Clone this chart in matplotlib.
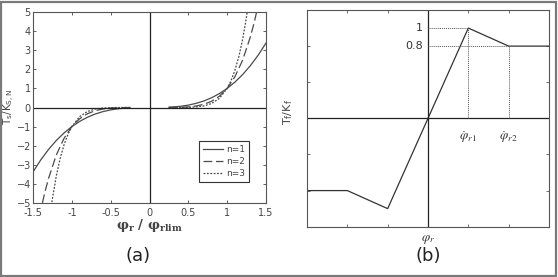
import matplotlib
matplotlib.use("Agg")
import matplotlib.pyplot as plt
from matplotlib.patches import Rectangle

# ---- Panel (a) data (positive branch; curve is odd-symmetric) ----
x_n1 = [0.25, 0.3, 0.4, 0.5, 0.6, 0.7, 0.8, 0.9, 1.0, 1.1, 1.2, 1.3, 1.4, 1.5]
y_n1 = [0.016, 0.027, 0.064, 0.125, 0.216, 0.343, 0.512, 0.729, 1.0, 1.331, 1.728, 2.197, 2.744, 3.375]
x_n2 = [0.25, 0.3, 0.4, 0.5, 0.6, 0.7, 0.8, 0.9, 1.0, 1.1, 1.2, 1.3, 1.35, 1.4]
y_n2 = [0.001, 0.002, 0.010, 0.031, 0.078, 0.168, 0.328, 0.590, 1.0, 1.611, 2.488, 3.713, 4.48, 5.38]
x_n3 = [0.25, 0.3, 0.4, 0.5, 0.6, 0.7, 0.8, 0.9, 1.0, 1.05, 1.1, 1.15, 1.2, 1.25, 1.3]
y_n3 = [0.0, 0.0, 0.002, 0.008, 0.028, 0.082, 0.210, 0.478, 1.0, 1.41, 1.949, 2.66, 3.583, 4.77, 6.27]
legend_labels = ["n=1", "n=2", "n=3"]
a_xticks = [-1.5, -1, -0.5, 0, 0.5, 1, 1.5]
a_yticks = [-5, -4, -3, -2, -1, 0, 1, 2, 3, 4, 5]

# ---- Panel (b) data ----
b_x = [-3, -2, -1, 1, 2, 3]
b_y = [-0.8, -0.8, -1.0, 1.0, 0.8, 0.8]
b_r1 = (1, 1.0)
b_r2 = (2, 0.8)

W, H = 558, 277
fig = plt.figure(figsize=(W / 100, H / 100), dpi=100)

def box(l, t, r, b):
    return [l / W, 1 - b / H, (r - l) / W, (b - t) / H]

# outer frame
fig.patches.append(Rectangle((0.5 / W, 1.5 / H), (555.5 - 0.5) / W, (275.5 - 1.5) / H,
                             transform=fig.transFigure, fill=False,
                             edgecolor="#7a7a7a", linewidth=1.6))

gray = "#4a4a4a"
# ================= Panel (a) =================
ax = fig.add_axes(box(33, 12, 266, 203))
styles = [dict(linestyle="-"), dict(linestyle=(0, (7, 3))), dict(linestyle=(0, (1.5, 1.2)))]
data = [(x_n1, y_n1), (x_n2, y_n2), (x_n3, y_n3)]
for (xs, ys), st, lab in zip(data, styles, legend_labels):
    ax.plot(xs, ys, color=gray, lw=0.9, label=lab, **st)
    ax.plot([-v for v in xs], [-v for v in ys], color=gray, lw=0.9, **st)
ax.axhline(0, color="#222222", lw=0.9)
ax.axvline(0, color="#222222", lw=0.9)
ax.set_xlim(-1.5, 1.5)
ax.set_ylim(-5, 5)
ax.set_xticks(a_xticks)
ax.set_xticklabels(["-1.5", "-1", "-0.5", "0", "0.5", "1", "1.5"])
ax.set_yticks(a_yticks)
ax.tick_params(direction="in", length=2.5, width=0.6, labelsize=7, colors="#444444",
               top=True, right=True, pad=1.5)
ax.tick_params(axis="x", pad=3.5)
for s in ax.spines.values():
    s.set_color("#555555")
    s.set_linewidth(0.8)
leg = ax.legend(loc="lower left", bbox_to_anchor=(0.712, 0.11), fontsize=6.5,
                frameon=True, fancybox=False, edgecolor="#333333", framealpha=1,
                handlelength=2.3, borderpad=0.4, labelspacing=0.35, handletextpad=0.3,
                borderaxespad=0)
leg.get_frame().set_linewidth(0.8)
for t in leg.get_texts():
    t.set_color("#444444")
fig.text(150 / W, 1 - 225 / H, "φ$_\\mathbf{r}$ / φ$_\\mathbf{rlim}$", family="DejaVu Serif",
         weight="bold", fontsize=9.5, color="#444444", ha="center", va="center",
         math_fontfamily="dejavuserif")
fig.text(9 / W, 1 - 107 / H, "T$_\\mathrm{s}$/K$_\\mathrm{S,N}$", rotation=90, fontsize=7.5,
         color="#444444", ha="center", va="center")
fig.text(138 / W, 1 - 256 / H, "(a)", fontsize=13, color="#222222", ha="center", va="center")

# ================= Panel (b) =================
bx = fig.add_axes(box(307, 10, 549, 226.7))
bx.plot(b_x, b_y, color="#333333", lw=0.9)
bx.axhline(0, color="#222222", lw=0.9)
bx.axvline(0, color="#222222", lw=0.9)
for (px, py) in (b_r1, b_r2):
    bx.plot([0, px], [py, py], color="#555555", lw=0.7, linestyle=(0, (1, 1)))
    bx.plot([px, px], [0, py], color="#555555", lw=0.7, linestyle=(0, (1, 1)))
bx.set_xlim(-3, 3)
bx.set_ylim(-1.2, 1.2)
bx.set_xticks([-2, -1, 1, 2])
bx.set_yticks([-0.8, -0.4, 0.4, 0.8])
bx.tick_params(direction="in", length=2.5, width=0.6, top=True, right=True,
               labelbottom=False, labelleft=False, colors="#555555")
for s in bx.spines.values():
    s.set_color("#555555")
    s.set_linewidth(0.8)
bx.text(-0.12, b_r1[1], "1", ha="right", va="center", fontsize=8, color="#333333")
bx.text(-0.12, b_r2[1], "0.8", ha="right", va="center", fontsize=8, color="#333333")
bx.text(b_r1[0], -0.12, r"$\dot{\varphi}_{r1}$", ha="center", va="top", fontsize=9.5,
        color="#333333", math_fontfamily="stix")
bx.text(b_r2[0], -0.12, r"$\dot{\varphi}_{r2}$", ha="center", va="top", fontsize=9.5,
        color="#333333", math_fontfamily="stix")
fig.text(428 / W, 1 - 240 / H, r"$\varphi_r$", ha="center", va="center", fontsize=9.5,
         color="#333333", math_fontfamily="stix")
fig.text(288 / W, 1 - 112 / H, "T$_\\mathrm{f}$/K$_\\mathrm{f}$", rotation=90, fontsize=8,
         color="#444444", ha="center", va="center")
fig.text(428 / W, 1 - 256 / H, "(b)", fontsize=13, color="#222222", ha="center", va="center")

fig.savefig("out.png", dpi=100)
